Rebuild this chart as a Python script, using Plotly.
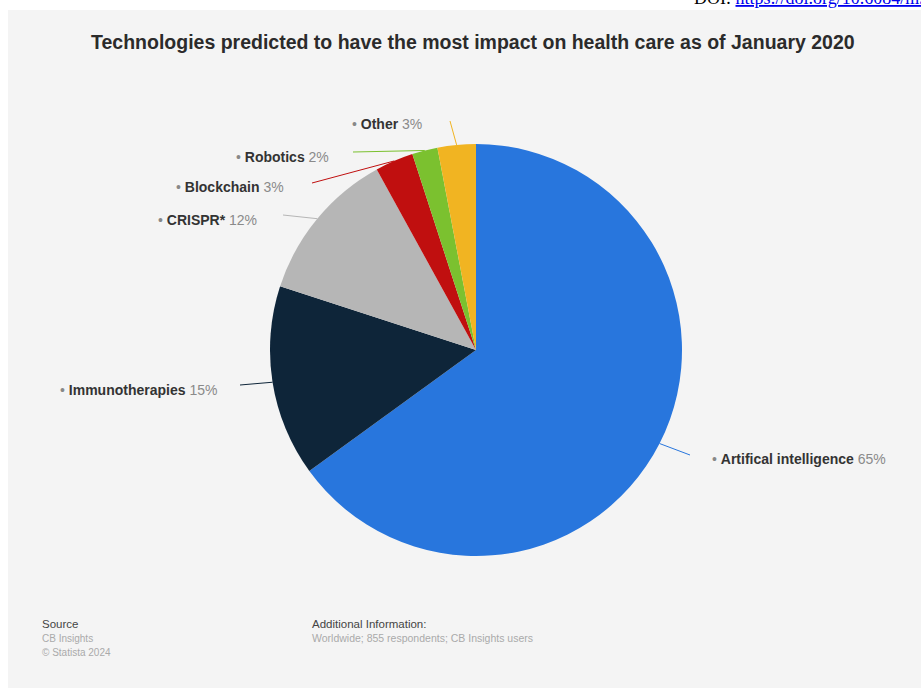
import math
import plotly.graph_objects as go

W, H = 921, 689

# ---- data ----
categories = ["Artifical intelligence", "Immunotherapies", "CRISPR*", "Blockchain", "Robotics", "Other"]
shares = [65, 15, 12, 3, 2, 3]
colors = ["#2876dd", "#0e2539", "#b6b6b6", "#c00f0f", "#7bc12f", "#f1b422"]

# ---- layout constants (pixels) ----
CX, CY, R = 476, 350, 206
# label anchor (x, y, xanchor) and leader-line start point, per slice
label_pos = [(710, 459, "left"), (219, 390, "right"), (259, 220, "right"),
             (286, 187, "right"), (331, 157, "right"), (424, 124, "right")]
line_start = [(690, 455), (240, 385), (283, 215), (312, 183), (353, 152), (450, 121)]


def px(x):
    return x / W


def py(y):
    return 1 - y / H


fig = go.Figure()
fig.add_trace(go.Pie(
    labels=categories, values=shares, sort=False, direction="clockwise", rotation=0,
    marker=dict(colors=colors, line=dict(width=0)), textinfo="none", hoverinfo="label+percent",
    showlegend=False,
    domain=dict(x=[px(CX - R), px(CX + R)], y=[py(CY + R), py(CY - R)]),
))

shapes = [dict(type="rect", xref="paper", yref="paper", x0=px(8), x1=1, y0=py(688), y1=py(10),
               fillcolor="#f4f4f4", line=dict(width=0), layer="below")]
annotations = []
total = sum(shares)
cum = 0
for i, (cat, v) in enumerate(zip(categories, shares)):
    mid = (cum + v / 2) / total * 2 * math.pi
    cum += v
    ex = CX + R * math.sin(mid)
    ey = CY - R * math.cos(mid)
    sx, sy = line_start[i]
    shapes.append(dict(type="line", xref="paper", yref="paper", x0=px(sx), y0=py(sy),
                       x1=px(ex), y1=py(ey), line=dict(color=colors[i], width=1)))
    lx, ly, anc = label_pos[i]
    annotations.append(dict(
        xref="paper", yref="paper", x=px(lx), y=py(ly), xanchor=anc, yanchor="middle",
        showarrow=False,
        text=f"<span style='color:#888'>•</span> <b>{cat}</b> <span style='color:#8a8a8a'>{v}%</span>",
        font=dict(family="Liberation Sans, Arial", size=14, color="#333"),
    ))

annotations += [
    dict(xref="paper", yref="paper", x=px(473), y=py(42), xanchor="center", yanchor="middle",
         showarrow=False, text="<b>Technologies predicted to have the most impact on health care as of January 2020</b>",
         font=dict(family="Liberation Sans, Arial", size=19.5, color="#2b2b2b")),
    dict(xref="paper", yref="paper", x=px(692), y=py(-2), xanchor="left", yanchor="middle",
         showarrow=False,
         text="DOI: <span style='color:#0000ee;text-decoration:underline'>https://doi.org/10.6084/m9</span>",
         font=dict(family="Liberation Serif, Times New Roman", size=18, color="#000")),
    dict(xref="paper", yref="paper", x=px(40), y=py(624), xanchor="left", yanchor="middle",
         showarrow=False, text="Source", font=dict(family="Liberation Sans, Arial", size=11.5, color="#444")),
    dict(xref="paper", yref="paper", x=px(40), y=py(638), xanchor="left", yanchor="middle",
         showarrow=False, text="CB Insights", font=dict(family="Liberation Sans, Arial", size=10, color="#aaa")),
    dict(xref="paper", yref="paper", x=px(40), y=py(652), xanchor="left", yanchor="middle",
         showarrow=False, text="© Statista 2024", font=dict(family="Liberation Sans, Arial", size=10, color="#aaa")),
    dict(xref="paper", yref="paper", x=px(310), y=py(624), xanchor="left", yanchor="middle",
         showarrow=False, text="Additional Information:", font=dict(family="Liberation Sans, Arial", size=11.5, color="#444")),
    dict(xref="paper", yref="paper", x=px(310), y=py(638), xanchor="left", yanchor="middle",
         showarrow=False, text="Worldwide; 855 respondents; CB Insights users",
         font=dict(family="Liberation Sans, Arial", size=10.5, color="#aaa")),
]

fig.update_layout(width=W, height=H, margin=dict(l=0, r=0, t=0, b=0),
                  paper_bgcolor="white", plot_bgcolor="white",
                  shapes=shapes, annotations=annotations)
fig.write_html("out.html")
